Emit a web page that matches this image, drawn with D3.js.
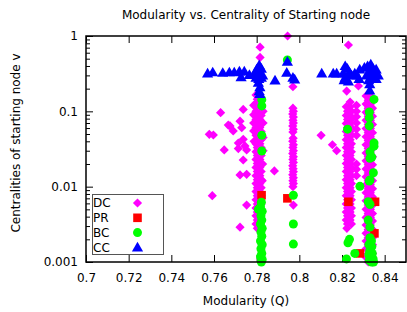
<!DOCTYPE html>
<html>
<head>
<meta charset="utf-8">
<script src="https://cdn.jsdelivr.net/npm/d3@7"></script>
<style>
  body { margin: 0; background: #fff; }
  text { font-family: "DejaVu Sans", sans-serif; font-size: 12px; fill: #000; }
</style>
</head>
<body>
<script>
var width = 407, height = 312;

// axis ticks
var xTicks = [0.7, 0.72, 0.74, 0.76, 0.78, 0.8, 0.82, 0.84];
var yTicks = [0.001, 0.01, 0.1, 1];
var categories = ['DC', 'PR', 'BC', 'CC'];

// DC: scattered points
var dcScatter = [
  [0.7945, 1.0], [0.7816, 0.71], [0.7816, 0.52], [0.8230, 0.76], [0.7970, 0.212],
  [0.7631, 0.096], [0.7737, 0.106], [0.7578, 0.0495], [0.7597, 0.0485],
  [0.7667, 0.0658], [0.7675, 0.064], [0.7690, 0.055], [0.7722, 0.074], [0.7730, 0.0606],
  [0.7737, 0.0425], [0.7714, 0.038], [0.7745, 0.0347], [0.7714, 0.032], [0.7753, 0.0307],
  [0.7648, 0.0307], [0.7737, 0.0226], [0.7722, 0.0143], [0.7753, 0.0146], [0.7883, 0.0162],
  [0.7592, 0.0076], [0.7753, 0.0057], [0.7722, 0.0029],
  [0.8102, 0.048], [0.8155, 0.036], [0.8175, 0.030],
  [0.8277, 0.217], [0.8222, 0.186], [0.8238, 0.133]
];
// DC: column near Q = 0.78
var dcColA = [
  [0.7797, 0.165], [0.7815, 0.165], [0.7803, 0.145], [0.7821, 0.145], [0.7797, 0.128], [0.7815, 0.128],
  [0.7803, 0.113], [0.7821, 0.113], [0.7797, 0.1], [0.7815, 0.1], [0.7803, 0.088], [0.7821, 0.088],
  [0.7797, 0.078], [0.7815, 0.078], [0.7803, 0.069], [0.7821, 0.069], [0.7797, 0.061], [0.7815, 0.061],
  [0.7803, 0.054], [0.7821, 0.054], [0.7797, 0.048], [0.7815, 0.048], [0.7803, 0.042], [0.7821, 0.042],
  [0.7797, 0.037], [0.7815, 0.037], [0.7803, 0.033], [0.7821, 0.033], [0.7797, 0.029], [0.7815, 0.029],
  [0.7803, 0.026], [0.7821, 0.026], [0.7797, 0.023], [0.7815, 0.023], [0.7803, 0.0203], [0.7821, 0.0203],
  [0.7797, 0.018], [0.7815, 0.018], [0.7803, 0.0159], [0.7821, 0.0159], [0.7797, 0.014], [0.7815, 0.014],
  [0.7803, 0.0124], [0.7821, 0.0124], [0.7797, 0.011], [0.7815, 0.011], [0.7803, 0.0097], [0.7821, 0.0097],
  [0.7797, 0.0086], [0.7815, 0.0086], [0.7803, 0.0076], [0.7821, 0.0076], [0.7797, 0.0067], [0.7815, 0.0067],
  [0.7803, 0.0059], [0.7821, 0.0059], [0.7797, 0.0052], [0.7815, 0.0052], [0.7803, 0.0046], [0.7821, 0.0046],
  [0.7797, 0.0041], [0.7815, 0.0041], [0.7803, 0.0036], [0.7821, 0.0036], [0.7797, 0.0032], [0.7815, 0.0032],
  [0.7803, 0.0028],
  [0.7786, 0.12], [0.7786, 0.09], [0.7786, 0.07], [0.7786, 0.055], [0.7788, 0.04],
  [0.7830, 0.1], [0.7830, 0.07], [0.7830, 0.045], [0.7830, 0.03], [0.7828, 0.02], [0.7826, 0.012]
];
// DC: column near Q = 0.797
var dcColB = [
  [0.7970, 0.11], [0.7972, 0.1], [0.7969, 0.092], [0.7972, 0.084], [0.7970, 0.076],
  [0.7972, 0.07], [0.7969, 0.064], [0.7972, 0.058], [0.7970, 0.053],
  [0.7971, 0.044], [0.7969, 0.04], [0.7972, 0.036], [0.7970, 0.033], [0.7972, 0.030],
  [0.7969, 0.0275], [0.7972, 0.025], [0.7970, 0.023], [0.7972, 0.021], [0.7969, 0.019],
  [0.7971, 0.0173], [0.7972, 0.0158], [0.7969, 0.0144], [0.7972, 0.0131], [0.7970, 0.012],
  [0.7972, 0.011], [0.7970, 0.0100], [0.7972, 0.0057]
];
// DC: column near Q = 0.823
var dcColC = [
  [0.8220, 0.115], [0.8238, 0.115], [0.8226, 0.1], [0.8244, 0.1], [0.8220, 0.088], [0.8238, 0.088],
  [0.8226, 0.078], [0.8244, 0.078], [0.8220, 0.069], [0.8238, 0.069], [0.8226, 0.061], [0.8244, 0.061],
  [0.8220, 0.054], [0.8238, 0.054], [0.8226, 0.048], [0.8244, 0.048], [0.8220, 0.042], [0.8238, 0.042],
  [0.8226, 0.037], [0.8244, 0.037], [0.8220, 0.033], [0.8238, 0.033], [0.8226, 0.029], [0.8244, 0.029],
  [0.8220, 0.026], [0.8238, 0.026], [0.8226, 0.023], [0.8244, 0.023], [0.8220, 0.0203], [0.8238, 0.0203],
  [0.8226, 0.018], [0.8244, 0.018], [0.8220, 0.0159], [0.8238, 0.0159], [0.8226, 0.014], [0.8244, 0.014],
  [0.8220, 0.0124], [0.8238, 0.0124], [0.8226, 0.011], [0.8244, 0.011], [0.8220, 0.0097], [0.8238, 0.0097],
  [0.8226, 0.0086], [0.8244, 0.0086], [0.8220, 0.0076], [0.8238, 0.0076], [0.8226, 0.0067], [0.8244, 0.0067],
  [0.8220, 0.0059], [0.8238, 0.0059], [0.8226, 0.0052], [0.8244, 0.0052], [0.8220, 0.0046], [0.8238, 0.0046],
  [0.8226, 0.0041], [0.8244, 0.0041], [0.8220, 0.0036], [0.8238, 0.0036], [0.8226, 0.0032], [0.8244, 0.0032],
  [0.8223, 0.0028],
  [0.8268, 0.12], [0.8268, 0.1], [0.8268, 0.085], [0.8268, 0.07], [0.8268, 0.058],
  [0.8268, 0.048], [0.8268, 0.02], [0.8268, 0.017], [0.8268, 0.014]
];
// DC: column near Q = 0.833
var dcColD = [
  [0.8313, 0.16], [0.8333, 0.16], [0.8323, 0.14], [0.8343, 0.14], [0.8313, 0.125], [0.8333, 0.125],
  [0.8323, 0.11], [0.8343, 0.11], [0.8313, 0.097], [0.8333, 0.097], [0.8323, 0.086], [0.8343, 0.086],
  [0.8313, 0.076], [0.8333, 0.076], [0.8323, 0.067], [0.8343, 0.067], [0.8313, 0.059], [0.8333, 0.059],
  [0.8323, 0.052], [0.8343, 0.052], [0.8313, 0.046], [0.8333, 0.046], [0.8323, 0.041], [0.8343, 0.041],
  [0.8313, 0.036], [0.8333, 0.036], [0.8323, 0.032], [0.8343, 0.032], [0.8313, 0.028], [0.8333, 0.028],
  [0.8323, 0.025], [0.8343, 0.025], [0.8313, 0.022], [0.8333, 0.022], [0.8323, 0.0195], [0.8343, 0.0195],
  [0.8313, 0.0172], [0.8333, 0.0172], [0.8323, 0.0152], [0.8343, 0.0152], [0.8313, 0.0135], [0.8333, 0.0135],
  [0.8323, 0.012], [0.8343, 0.012], [0.8313, 0.0106], [0.8333, 0.0106], [0.8323, 0.0094], [0.8343, 0.0094],
  [0.8313, 0.0083], [0.8333, 0.0083], [0.8323, 0.0073], [0.8343, 0.0073], [0.8313, 0.0065], [0.8333, 0.0065],
  [0.8323, 0.0057], [0.8343, 0.0057], [0.8313, 0.005], [0.8333, 0.005], [0.8323, 0.0044], [0.8343, 0.0044],
  [0.8313, 0.0039], [0.8333, 0.0039], [0.8323, 0.0035], [0.8343, 0.0035], [0.8313, 0.0031], [0.8333, 0.0031],
  [0.8323, 0.0027], [0.8343, 0.0027], [0.8313, 0.0024], [0.8333, 0.0024], [0.8323, 0.0021], [0.8343, 0.0021],
  [0.8313, 0.0019], [0.8333, 0.0019], [0.8323, 0.0017], [0.8343, 0.0017], [0.8313, 0.0015], [0.8333, 0.0015],
  [0.8323, 0.0013], [0.8343, 0.0013], [0.8313, 0.00115], [0.8333, 0.00115], [0.8323, 0.001], [0.8343, 0.001]
];

var prPoints = [
  [0.7823, 0.0077], [0.7944, 0.0070], [0.8230, 0.0063], [0.8355, 0.0063],
  [0.8352, 0.0024], [0.8284, 0.0013]
];

var bcPoints = [
  [0.7944, 0.48],
  [0.7824, 0.143], [0.7824, 0.118], [0.7824, 0.048], [0.7824, 0.0297],
  [0.7822, 0.0062], [0.7818, 0.0054], [0.7808, 0.005], [0.7826, 0.0047], [0.7820, 0.0041],
  [0.7824, 0.0036], [0.7818, 0.0032], [0.7826, 0.0028], [0.7820, 0.0025], [0.7824, 0.0022],
  [0.7818, 0.0019], [0.7826, 0.0017], [0.7820, 0.0015], [0.7824, 0.0013], [0.7818, 0.00118],
  [0.7826, 0.00108], [0.7822, 0.001],
  [0.7972, 0.0077], [0.7972, 0.0032], [0.7972, 0.00173],
  [0.8226, 0.058], [0.8235, 0.002], [0.8228, 0.0018], [0.8221, 0.0011], [0.8260, 0.0013],
  [0.8350, 0.144], [0.8328, 0.098], [0.8328, 0.082], [0.8328, 0.064], [0.8350, 0.038],
  [0.8350, 0.0345], [0.8331, 0.029], [0.8340, 0.0247], [0.8331, 0.0238], [0.8347, 0.0153],
  [0.8331, 0.0123], [0.8328, 0.0119], [0.8284, 0.0101], [0.8323, 0.0063], [0.8331, 0.0058],
  [0.8323, 0.0036], [0.8331, 0.0029], [0.8331, 0.0021], [0.8338, 0.0019], [0.8326, 0.0017],
  [0.8340, 0.0016], [0.8330, 0.0014], [0.8342, 0.0013], [0.8326, 0.00125], [0.8336, 0.0012],
  [0.8346, 0.0011], [0.8328, 0.00105], [0.8338, 0.001], [0.8348, 0.001]
];

var ccPoints = [
  [0.7570, 0.32], [0.7594, 0.33], [0.7641, 0.325], [0.7672, 0.33], [0.7695, 0.33],
  [0.7719, 0.34], [0.7727, 0.285], [0.7742, 0.34], [0.7766, 0.305],
  [0.7800, 0.36], [0.7812, 0.41], [0.7822, 0.37], [0.7790, 0.32], [0.7805, 0.31],
  [0.7818, 0.32], [0.7828, 0.30], [0.7797, 0.28], [0.7810, 0.27], [0.7822, 0.28],
  [0.7808, 0.24], [0.7815, 0.21], [0.7812, 0.185], [0.7815, 0.17],
  [0.7944, 0.456], [0.7941, 0.326], [0.7970, 0.28], [0.7978, 0.266], [0.7886, 0.258],
  [0.8105, 0.32], [0.8159, 0.32], [0.8175, 0.32],
  [0.8215, 0.40], [0.8225, 0.37], [0.8205, 0.32], [0.8235, 0.33], [0.8215, 0.28],
  [0.8230, 0.25], [0.8210, 0.26], [0.8245, 0.30],
  [0.8260, 0.32], [0.8283, 0.36], [0.8280, 0.27], [0.8270, 0.30],
  [0.8305, 0.38], [0.8320, 0.40], [0.8335, 0.42], [0.8345, 0.37], [0.8360, 0.36],
  [0.8370, 0.30], [0.8355, 0.32], [0.8330, 0.33], [0.8315, 0.30], [0.8340, 0.28],
  [0.8325, 0.26], [0.8360, 0.27], [0.8330, 0.23], [0.8330, 0.19]
];

var colors = { DC: '#ff00ff', PR: '#ff0000', BC: '#00ff00', CC: '#0000ff' };

// marker paths centered on 0,0
var shapes = {
  DC: 'M0,-4.6L4.6,0L0,4.6L-4.6,0Z',
  PR: 'M-4.3,-4.3H4.3V4.3H-4.3Z',
  BC: 'M4.5,0A4.5,4.5,0,1,1,-4.5,0A4.5,4.5,0,1,1,4.5,0Z',
  CC: 'M0,-5.6L5.6,4.1H-5.6Z'
};

// plot frame (named to avoid clashing with window.top)
var plotL = 86, plotR = 406, plotT = 36, plotB = 262;

var x = d3.scaleLinear().domain([0.7, 0.85]).range([plotL, plotR]);
var y = d3.scaleLog().domain([0.001, 1]).range([plotB, plotT]);

var svg = d3.select('body').append('svg')
  .attr('width', width)
  .attr('height', height);

// axes with inward ticks, mirrored on top and right
svg.append('g')
  .attr('transform', 'translate(0,' + plotB + ')')
  .call(d3.axisBottom(x).tickValues(xTicks).tickFormat(d3.format('')).tickSize(-7).tickSizeOuter(0).tickPadding(11));
svg.append('g')
  .attr('transform', 'translate(0,' + plotT + ')')
  .call(d3.axisTop(x).tickValues(xTicks).tickFormat('').tickSize(-7).tickSizeOuter(0));
svg.append('g')
  .attr('transform', 'translate(' + plotL + ',0)')
  .call(d3.axisLeft(y).tickValues(yTicks).tickFormat(d3.format('')).tickSize(-7).tickSizeOuter(0).tickPadding(8));
svg.append('g')
  .attr('transform', 'translate(' + plotR + ',0)')
  .call(d3.axisRight(y).tickValues(yTicks).tickFormat('').tickSize(-7).tickSizeOuter(0));

// minor log ticks
var minor = y.ticks().filter(function(d) { return yTicks.indexOf(d) < 0; });
svg.append('g')
  .attr('transform', 'translate(' + plotL + ',0)')
  .call(d3.axisLeft(y).tickValues(minor).tickFormat('').tickSize(-4).tickSizeOuter(0));
svg.append('g')
  .attr('transform', 'translate(' + plotR + ',0)')
  .call(d3.axisRight(y).tickValues(minor).tickFormat('').tickSize(-4).tickSizeOuter(0));

svg.selectAll('.domain').remove();
svg.selectAll('.tick line').attr('stroke', '#000');
svg.selectAll('.tick text').attr('font-family', '"DejaVu Sans", sans-serif').attr('font-size', 12).attr('fill', '#000');

// points, drawn in series order
function plot(data, key) {
  svg.append('g').selectAll('path')
    .data(data)
    .enter().append('path')
    .attr('d', shapes[key])
    .attr('transform', function(d) { return 'translate(' + x(d[0]) + ',' + y(d[1]) + ')'; })
    .attr('fill', colors[key]);
}
plot(dcScatter.concat(dcColA, dcColB, dcColC, dcColD), 'DC');
plot(prPoints, 'PR');
plot(bcPoints, 'BC');
plot(ccPoints, 'CC');

// border
svg.append('rect')
  .attr('x', plotL).attr('y', plotT)
  .attr('width', plotR - plotL).attr('height', plotB - plotT)
  .attr('fill', 'none').attr('stroke', '#000').attr('stroke-width', 1.5);

// legend
var legend = svg.append('g');
legend.append('rect')
  .attr('x', 92.5).attr('y', 194.5).attr('width', 71).attr('height', 60)
  .attr('fill', '#fff').attr('stroke', '#555');
var items = legend.selectAll('g.item')
  .data(categories)
  .enter().append('g')
  .attr('transform', function(d, i) { return 'translate(0,' + (203 + i * 14.8) + ')'; });
items.append('text')
  .attr('x', 93).attr('dy', '0.35em')
  .text(function(d) { return d; });
items.append('path')
  .attr('transform', 'translate(137.5,0)')
  .attr('d', function(d) { return shapes[d]; })
  .attr('fill', function(d) { return colors[d]; });

// titles
svg.append('text')
  .attr('x', 246).attr('y', 19)
  .attr('text-anchor', 'middle')
  .text('Modularity vs. Centrality of Starting node');
svg.append('text')
  .attr('x', 246).attr('y', 305)
  .attr('text-anchor', 'middle')
  .text('Modularity (Q)');
svg.append('text')
  .attr('transform', 'translate(20,143) rotate(-90)')
  .attr('text-anchor', 'middle')
  .text('Centralities of starting node v');
</script>
</body>
</html>
